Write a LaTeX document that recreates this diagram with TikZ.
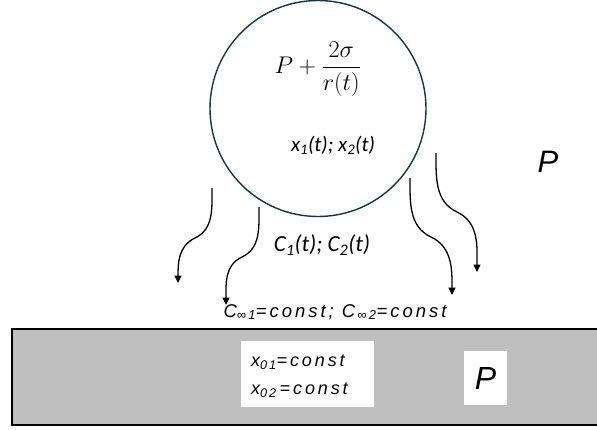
\RequirePackage{fix-cm}
\documentclass[tikz,border=0pt]{standalone}
\usepackage{fontspec}
\setmainfont{Liberation Sans}
\newfontfamily\calfont{Carlito}
\newfontfamily\arsp[LetterSpace=16]{Liberation Sans}
\usetikzlibrary{arrows.meta}
\definecolor{circ}{RGB}{22,52,72}
\definecolor{slabgray}{RGB}{191,191,191}
\begin{document}
\begin{tikzpicture}[x=1pt,y=-1pt,
  flow/.style={line width=1.3pt,-{Triangle[length=7.5pt,width=7pt]}},
  lbl/.style={inner sep=0pt},
  whitebox/.style={fill=white,inner sep=0pt}]
\useasboundingbox[fill=white] (0,0) rectangle (597,429);
% slab
\draw[fill=slabgray,line width=2pt] (11.5,329) rectangle (610,425);
% bubble
\node[circle,draw=circ,line width=1.4pt,minimum size=216pt,inner sep=0pt] (bub) at (318,108.5) {};
\node[lbl,scale=1.34] (frm) at (318,69) {\fontsize{18}{20}\selectfont $\displaystyle P+\frac{2\sigma}{r(t)}$};
\node[lbl] (xt) at (333,145) {\calfont\itshape\fontsize{21}{24}\selectfont x\textsubscript{1}(t); x\textsubscript{2}(t)};
% arrows
\coordinate (a1) at (212,188); \coordinate (a2) at (178,283);
\coordinate (b1) at (259,207); \coordinate (b2) at (226,305);
\coordinate (c1) at (410,178); \coordinate (c2) at (452,295);
\coordinate (d1) at (436,153); \coordinate (d2) at (477,272);
\draw[flow] (a1) to[out=-90,in=25] (195,238) to[out=205,in=90] (a2);
\draw[flow] (b1) to[out=-90,in=25] (242,257) to[out=205,in=90] (b2);
\draw[flow] (c1) to[out=-90,in=155] (431,237) to[out=-25,in=90] (c2);
\draw[flow] (d1) to[out=-90,in=155] (457,212) to[out=-25,in=90] (d2);
\node[lbl] (ct) at (322,245) {\calfont\itshape\fontsize{23}{26}\selectfont C\textsubscript{1}(t); C\textsubscript{2}(t)};
\node[lbl] (cinf) at (335,312) {\arsp\itshape\fontsize{18.5}{20}\selectfont C\textsubscript{∞1}=const; C\textsubscript{\,∞\,2}=const};
\node[lbl] (pout) at (548,162) {\itshape\fontsize{31}{33}\selectfont P};
% boxes in slab
\node[whitebox,minimum width=133pt,minimum height=66pt] (wb) at (307.5,374) {};
\node[lbl,anchor=west,align=left,font=\arsp\itshape\fontsize{18}{28}\selectfont] (xc) at (251,376) {x\textsubscript{01}=const\\x\textsubscript{02}\,=const};
\node[whitebox,minimum width=43pt,minimum height=54pt] (pb) at (485.5,378) {\itshape\fontsize{32}{34}\selectfont P};
\end{tikzpicture}
\end{document}
